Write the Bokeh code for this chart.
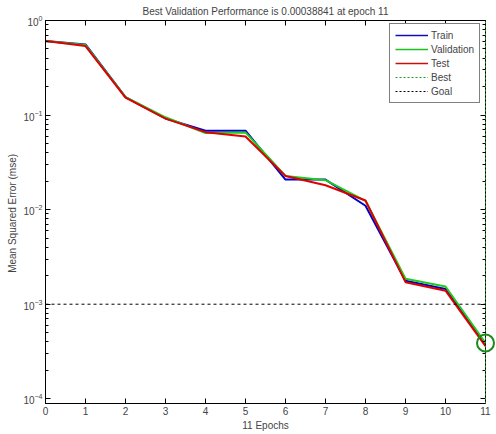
from bokeh.plotting import figure
from bokeh.models import (Range1d, LinearAxis, LogAxis, Legend, LegendItem,
                          FixedTicker, LogTicker)
from bokeh.embed import file_html
from bokeh.resources import INLINE

# Training record: mean squared error per epoch
epochs = [0, 1, 2, 3, 4, 5, 6, 7, 8, 9, 10, 11]
train = [0.607, 0.558, 0.155, 0.092, 0.0683, 0.0683, 0.0208, 0.0208, 0.0110, 0.00177, 0.00145, 0.000375]
validation = [0.607, 0.550, 0.155, 0.0947, 0.0645, 0.0655, 0.0227, 0.0205, 0.0124, 0.00186, 0.00154, 0.00038841]
test = [0.607, 0.536, 0.153, 0.0918, 0.0660, 0.0593, 0.0227, 0.0181, 0.0125, 0.00171, 0.00139, 0.000360]

best_epoch = 11
best_perf = 0.00038841
goal = 1e-3

x_ticks = list(range(12))
title = "Best Validation Performance is 0.00038841 at epoch 11"

FONT = "Liberation Sans"
FS = "10px"
Y_LO, Y_HI = 10 ** -4.05, 1.0

p = figure(width=496, height=434, output_backend="svg", toolbar_location=None,
           x_range=Range1d(0, 11), y_range=Range1d(Y_LO, Y_HI),
           y_axis_type="log",
           min_border_left=45, min_border_right=11,
           min_border_top=8, min_border_bottom=31)

p.title.text = title
p.title.align = "center"
p.title.text_font = FONT
p.title.text_font_size = FS
p.title.text_font_style = "normal"
p.title.offset = 0
p.title.standoff = 7

p.xgrid.visible = False
p.ygrid.visible = False
p.outline_line_color = "black"
p.background_fill_color = "white"
p.border_fill_color = "white"

p.xaxis.ticker = FixedTicker(ticks=x_ticks)
p.xaxis.axis_label = "11 Epochs"
p.yaxis.axis_label = "Mean Squared Error  (mse)"
p.yaxis.ticker = LogTicker(num_minor_ticks=10)

for ax in (p.xaxis[0], p.yaxis[0]):
    ax.axis_label_text_font = FONT
    ax.axis_label_text_font_size = FS
    ax.axis_label_text_font_style = "normal"
    ax.major_label_text_font = FONT
    ax.major_label_text_font_size = FS
    ax.major_tick_in = 5
    ax.major_tick_out = 0
    ax.minor_tick_in = 3
    ax.minor_tick_out = 0
    ax.axis_line_color = "black"
    ax.major_tick_line_color = "black"
    ax.minor_tick_line_color = "black"
    ax.axis_label_standoff = 2
    ax.major_label_standoff = 3
p.xaxis.minor_tick_line_color = None

# mirrored ticks on the top and right edges of the box
top = LinearAxis(ticker=FixedTicker(ticks=x_ticks), major_label_text_color=None,
                 major_tick_in=5, major_tick_out=0, minor_tick_line_color=None,
                 major_label_standoff=0)
right = LogAxis(ticker=LogTicker(num_minor_ticks=10), major_label_text_color=None,
                major_tick_in=5, major_tick_out=0, minor_tick_in=3, minor_tick_out=0,
                major_label_standoff=0)
p.add_layout(top, "above")
p.add_layout(right, "right")

TRAIN_C, VAL_C, TEST_C, BEST_C = "#0000c8", "#1ecc1e", "#e00000", "#1a9a1a"

r_train = p.line(epochs, train, line_color=TRAIN_C, line_width=2)
r_val = p.line(epochs, validation, line_color=VAL_C, line_width=2)
r_test = p.line(epochs, test, line_color=TEST_C, line_width=2)

r_goal = p.line([0, 11], [goal, goal], line_color="black", line_width=1, line_dash="3 3")
r_best = p.line([best_epoch, best_epoch], [Y_LO, Y_HI], line_color=BEST_C,
                line_width=1, line_dash="2 2", level="overlay")
r_best_pt = p.scatter([best_epoch], [best_perf], marker="circle", size=17,
                      fill_color=None, line_color="#1a8a1a", line_width=2, level="overlay")

# thin legend samples, placed left of the visible x range
off_x = [-3, -2]
off_y = [0.5, 0.5]
l_train = p.line(off_x, off_y, line_color="#1010b0", line_width=1.5)
l_val = p.line(off_x, off_y, line_color="#20c020", line_width=1.5)
l_test = p.line(off_x, off_y, line_color="#c81010", line_width=1.5)
l_best = p.line(off_x, off_y, line_color="#20a020", line_width=1.2, line_dash="2 2")
l_goal = p.line(off_x, off_y, line_color="black", line_width=1.2, line_dash="2 2")

legend = Legend(items=[
    LegendItem(label="Train", renderers=[l_train]),
    LegendItem(label="Validation", renderers=[l_val]),
    LegendItem(label="Test", renderers=[l_test]),
    LegendItem(label="Best", renderers=[l_best]),
    LegendItem(label="Goal", renderers=[l_goal]),
], location=(344, 300))
legend.label_text_font = FONT
legend.label_text_font_size = FS
legend.glyph_width = 33
legend.glyph_height = 12
legend.label_height = 12
legend.label_standoff = 3
legend.spacing = 2
legend.padding = 5
legend.margin = 0
legend.border_line_color = "black"
legend.background_fill_color = "white"
legend.background_fill_alpha = 1
p.add_layout(legend, "center")

open("out.html", "w").write(file_html(p, INLINE))
